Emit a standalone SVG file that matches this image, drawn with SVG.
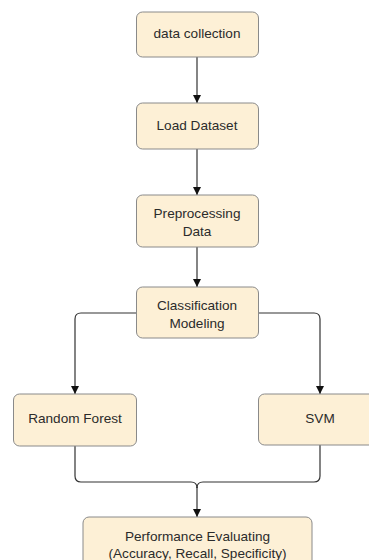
<svg xmlns="http://www.w3.org/2000/svg" width="369" height="560" viewBox="0 0 369 560">
  <defs>
    <marker id="arrow" viewBox="0 0 10 10" refX="10" refY="5" markerWidth="10" markerHeight="8" markerUnits="userSpaceOnUse" orient="auto">
      <path d="M0,0 L10,5 L0,10 z" fill="#111"/>
    </marker>
    <style>
      .box { fill: #fdf0d6; stroke: #8a8a8a; stroke-width: 1; }
      .lbl { font-family: "Liberation Sans", Arial, sans-serif; font-size: 13.6px; fill: #2b2b2b; text-anchor: middle; dominant-baseline: central; }
      .conn { fill: none; stroke: #333; stroke-width: 1.2; }
    </style>
  </defs>
  <rect width="369" height="560" fill="#ffffff"/>

  <g id="connectors">
    <path class="conn" d="M197,57 V103" marker-end="url(#arrow)"/>
    <path class="conn" d="M197,149 V195" marker-end="url(#arrow)"/>
    <path class="conn" d="M197,247 V287" marker-end="url(#arrow)"/>
    <path class="conn" d="M136.5,313 H81 Q75,313 75,319 V394" marker-end="url(#arrow)"/>
    <path class="conn" d="M258.5,313 H314 Q320,313 320,319 V394" marker-end="url(#arrow)"/>
    <path class="conn" d="M75,446 V476 Q75,482 81,482 H191 Q197,482 197,488"/>
    <path class="conn" d="M320,445 V476 Q320,482 314,482 H203 Q197,482 197,488"/>
    <path class="conn" d="M197,487 V517" marker-end="url(#arrow)"/>
  </g>

  <g id="data-collection">
    <rect class="box" x="136.5" y="12" width="122" height="45" rx="6"/>
    <text class="lbl" x="197" y="33">data collection</text>
  </g>
  <g id="load-dataset">
    <rect class="box" x="136.5" y="103" width="122" height="46" rx="6"/>
    <text class="lbl" x="197" y="125">Load Dataset</text>
  </g>
  <g id="preprocessing">
    <rect class="box" x="136.5" y="195" width="122" height="52" rx="6"/>
    <text class="lbl" x="197" y="213">Preprocessing</text>
    <text class="lbl" x="197" y="231">Data</text>
  </g>
  <g id="classification">
    <rect class="box" x="136.5" y="287" width="122" height="51" rx="6"/>
    <text class="lbl" x="197" y="305">Classification</text>
    <text class="lbl" x="197" y="323">Modeling</text>
  </g>
  <g id="random-forest">
    <rect class="box" x="13.5" y="394" width="123" height="52" rx="6"/>
    <text class="lbl" x="75" y="418">Random Forest</text>
  </g>
  <g id="svm">
    <rect class="box" x="258.5" y="394" width="124" height="51" rx="6"/>
    <text class="lbl" x="320" y="418">SVM</text>
  </g>
  <g id="performance">
    <rect class="box" x="83" y="517" width="229" height="50" rx="6"/>
    <text class="lbl" x="197.5" y="536">Performance Evaluating</text>
    <text class="lbl" x="197.5" y="553">(Accuracy, Recall, Specificity)</text>
  </g>
</svg>
